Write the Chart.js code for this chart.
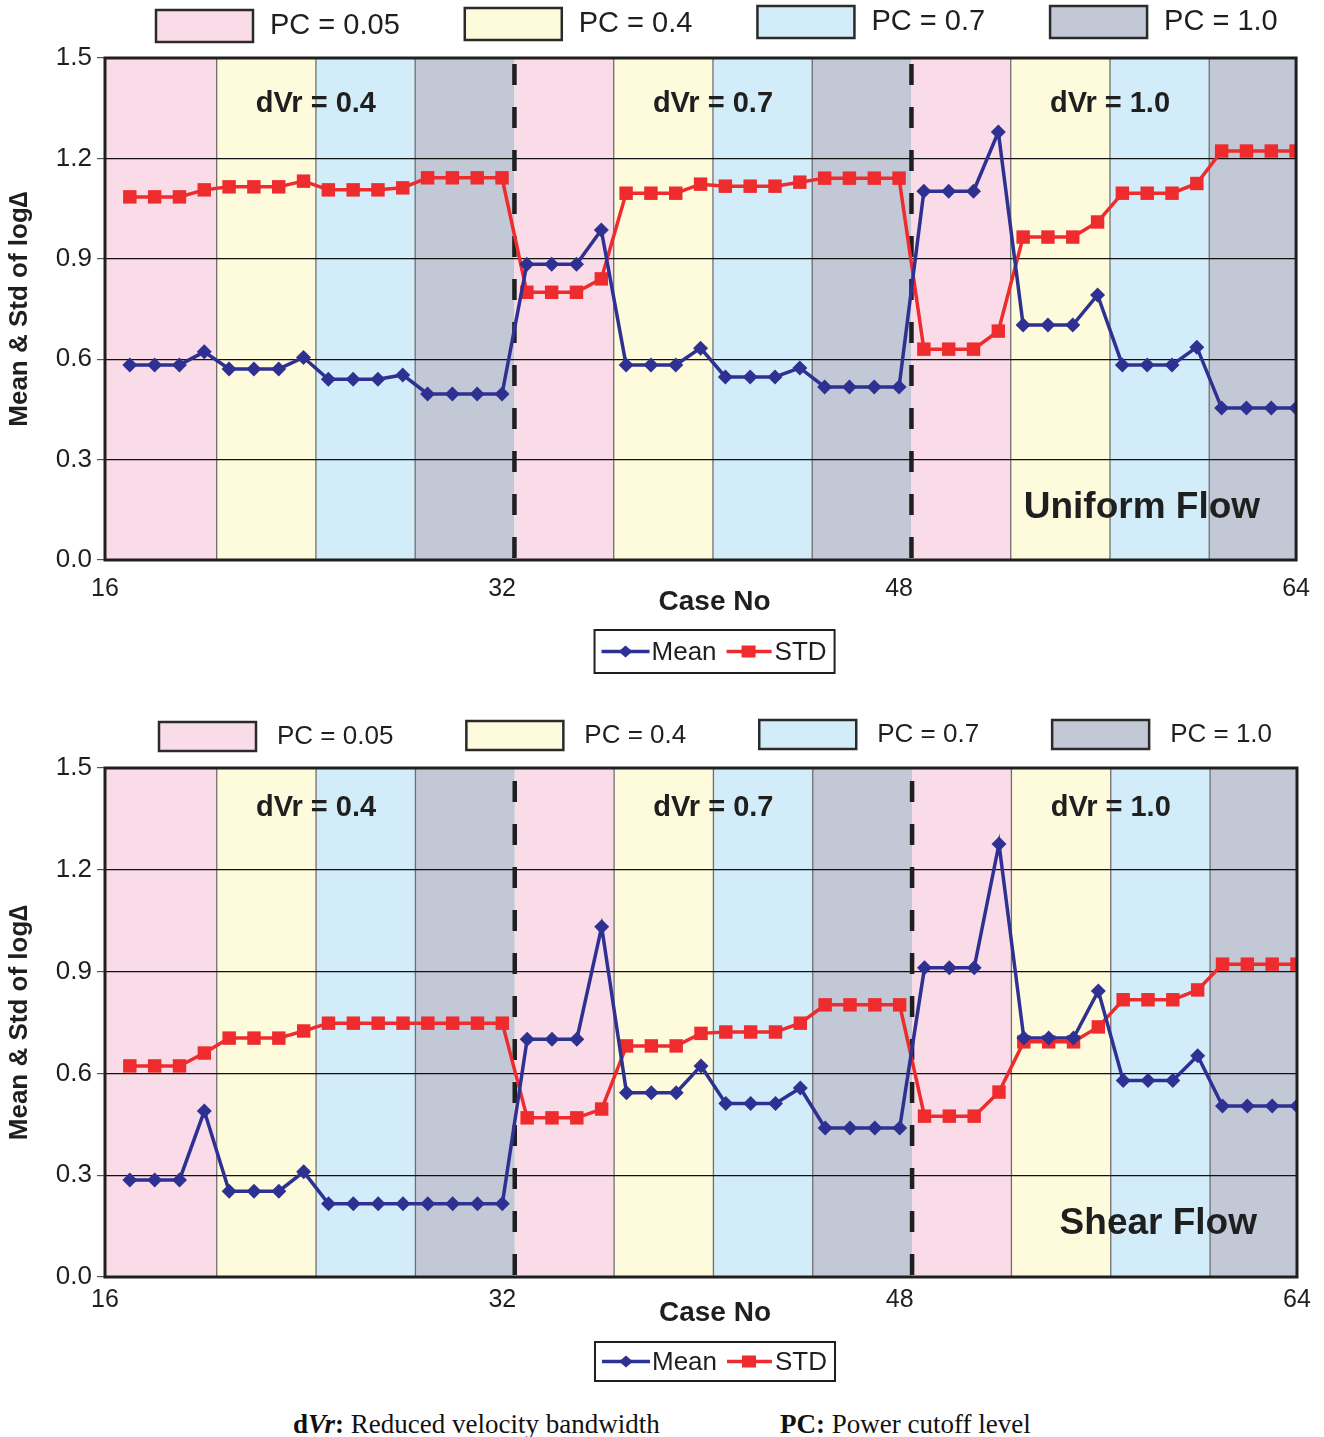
<!DOCTYPE html>
<html>
<head>
<meta charset="utf-8">
<title>Mean &amp; Std of log&#8710;</title>
<script src="https://cdn.jsdelivr.net/npm/chart.js@4.4.1/dist/chart.umd.min.js"></script>
<style>
  body { margin: 0; background: #fff; }
  #page { position: relative; width: 1324px; height: 1437px; overflow: hidden; }
  .panel { position: absolute; left: 0; width: 1324px; height: 700px; }
  #top { top: 0; }
  #bottom { top: 700px; }
  .note { position: absolute; top: 1409px; font: 27px "Liberation Serif", "Times New Roman", serif; color: #111; white-space: nowrap; }
</style>
</head>
<body>
<div id="page">
  <div class="panel" id="top"><canvas id="chartUniform" width="1324" height="700"></canvas></div>
  <div class="panel" id="bottom"><canvas id="chartShear" width="1324" height="700"></canvas></div>
  <div class="note" style="left:293px"><b>d<i>Vr</i>:</b> Reduced velocity bandwidth</div>
  <div class="note" style="left:780px"><b>PC:</b> Power cutoff level</div>
</div>
<script>
// case numbers 17..64, grouped by dVr (16 cases each) then PC (4 cases each)
const caseNo = [17, 18, 19, 20, 21, 22, 23, 24, 25, 26, 27, 28, 29, 30, 31, 32,
                33, 34, 35, 36, 37, 38, 39, 40, 41, 42, 43, 44, 45, 46, 47, 48,
                49, 50, 51, 52, 53, 54, 55, 56, 57, 58, 59, 60, 61, 62, 63, 64];
const dvrLevels = ["0.4", "0.7", "1.0"];
const pcLevels = ["0.05", "0.4", "0.7", "1.0"];
const xTicks = [16, 32, 48, 64];
const yTicks = [0, 0.3, 0.6, 0.9, 1.2, 1.5];

const uniformMean = [0.583, 0.583, 0.583, 0.622, 0.571, 0.571, 0.571, 0.605, 0.540, 0.540, 0.540, 0.553, 0.496, 0.496, 0.496, 0.496,
                     0.884, 0.884, 0.884, 0.986, 0.583, 0.583, 0.583, 0.633, 0.547, 0.547, 0.547, 0.574, 0.517, 0.517, 0.517, 0.517,
                     1.102, 1.102, 1.102, 1.279, 0.702, 0.702, 0.702, 0.792, 0.583, 0.583, 0.583, 0.636, 0.454, 0.454, 0.454, 0.454];
const uniformStd  = [1.085, 1.085, 1.085, 1.106, 1.115, 1.115, 1.115, 1.132, 1.106, 1.106, 1.106, 1.112, 1.142, 1.142, 1.142, 1.142,
                     0.800, 0.800, 0.800, 0.840, 1.096, 1.096, 1.096, 1.123, 1.117, 1.117, 1.117, 1.129, 1.141, 1.141, 1.141, 1.141,
                     0.630, 0.630, 0.630, 0.684, 0.965, 0.965, 0.965, 1.010, 1.096, 1.096, 1.096, 1.125, 1.222, 1.222, 1.222, 1.222];

const shearMean = [0.286, 0.286, 0.286, 0.489, 0.253, 0.253, 0.253, 0.310, 0.216, 0.216, 0.216, 0.216, 0.216, 0.216, 0.216, 0.216,
                   0.701, 0.701, 0.701, 1.032, 0.543, 0.543, 0.543, 0.622, 0.511, 0.511, 0.511, 0.557, 0.439, 0.439, 0.439, 0.439,
                   0.911, 0.911, 0.911, 1.276, 0.704, 0.704, 0.704, 0.843, 0.579, 0.579, 0.579, 0.652, 0.504, 0.504, 0.504, 0.504];
const shearStd  = [0.622, 0.622, 0.622, 0.660, 0.704, 0.704, 0.704, 0.725, 0.748, 0.748, 0.748, 0.748, 0.748, 0.748, 0.748, 0.748,
                   0.469, 0.469, 0.469, 0.495, 0.681, 0.681, 0.681, 0.718, 0.722, 0.722, 0.722, 0.748, 0.802, 0.802, 0.802, 0.802,
                   0.474, 0.474, 0.474, 0.545, 0.693, 0.693, 0.693, 0.737, 0.817, 0.817, 0.817, 0.846, 0.922, 0.922, 0.922, 0.922];

const pcColors = ["#F9DCE8", "#FEFADC", "#D2EDF9", "#C3C8D6"];
const meanColor = "#2E3192";
const stdColor = "#EE2B2D";
const ink = "#1f1f1f";
const sans = "'Liberation Sans', Arial, sans-serif";

function drawDiamond(ctx, x, y, r) {
  ctx.beginPath();
  ctx.moveTo(x - r * 1.15, y); ctx.lineTo(x, y - r); ctx.lineTo(x + r * 1.15, y); ctx.lineTo(x, y + r);
  ctx.closePath(); ctx.fill();
}

const flowPanel = {
  id: "flowPanel",
  beforeDraw(chart, args, o) {
    const { ctx, chartArea: a, scales: { x } } = chart;
    const nGroups = dvrLevels.length * pcLevels.length;
    ctx.save();
    dvrLevels.forEach((d, di) => {
      pcLevels.forEach((p, pi) => {
        const g = di * pcLevels.length + pi;
        const cases = caseNo.slice(g * 4, g * 4 + 4);
        const x0 = x.getPixelForValue(g === 0 ? x.min : cases[0] - 0.5);
        const x1 = x.getPixelForValue(g === nGroups - 1 ? x.max : cases[3] + 0.5);
        ctx.fillStyle = pcColors[pi];
        ctx.fillRect(x0, a.top, x1 - x0, a.bottom - a.top);
        if (pi > 0) {
          ctx.strokeStyle = "#6f6f6f"; ctx.lineWidth = 1.3;
          ctx.beginPath(); ctx.moveTo(x0, a.top); ctx.lineTo(x0, a.bottom); ctx.stroke();
        }
      });
    });
    ctx.restore();
  },
  beforeDatasetsDraw(chart) {
    const { ctx, chartArea: a, scales: { x } } = chart;
    ctx.save();
    ctx.strokeStyle = ink; ctx.lineWidth = 4.5; ctx.setLineDash([21, 22]);
    dvrLevels.forEach((d, di) => {
      if (di === 0) return;
      const px = x.getPixelForValue(caseNo[di * 16] - 0.5);
      ctx.beginPath(); ctx.moveTo(px, a.bottom - 2); ctx.lineTo(px, a.top); ctx.stroke();
    });
    ctx.restore();
  },
  afterDatasetsDraw(chart, args, o) {
    const { ctx, chartArea: a, scales: { x } } = chart;
    ctx.save();
    ctx.strokeStyle = ink; ctx.lineWidth = 3;
    ctx.strokeRect(a.left, a.top, a.right - a.left, a.bottom - a.top);
    ctx.fillStyle = ink;
    ctx.font = "bold 29px " + sans;
    ctx.textAlign = "center"; ctx.textBaseline = "middle";
    dvrLevels.forEach((d, di) => {
      const mid = (caseNo[di * 16] + caseNo[di * 16 + 15]) / 2;
      ctx.fillText("dVr = " + d, x.getPixelForValue(mid), a.top + o.labelDy);
    });
    ctx.font = "bold 37px " + sans;
    ctx.textAlign = "right";
    ctx.fillText(o.flow, a.right - o.flowDx, a.bottom - o.flowDy);
    ctx.restore();
  },
  afterDraw(chart, args, o) {
    const { ctx, chartArea: a } = chart;
    ctx.save();
    // PC colour key above the plot
    ctx.font = o.pcFont + "px " + sans;
    ctx.textBaseline = "middle"; ctx.textAlign = "left";
    let px = o.pcX;
    pcLevels.forEach((p, pi) => {
      const by = a.top - o.pcDy - (o.pcTilt || 0) * Math.min(pi, 2);
      ctx.fillStyle = pcColors[pi];
      ctx.fillRect(px, by, o.pcBoxW, o.pcBoxH);
      ctx.strokeStyle = "#2a2a2a"; ctx.lineWidth = 2.5;
      ctx.strokeRect(px, by, o.pcBoxW, o.pcBoxH);
      const label = "PC = " + p;
      const tx = px + o.pcBoxW + o.pcGap;
      ctx.fillStyle = ink;
      ctx.fillText(label, tx, by + o.pcBoxH / 2);
      px = tx + ctx.measureText(label).width + o.pcPad;
    });
    // axis title
    const cx = (a.left + a.right) / 2 + 14;
    ctx.font = "bold 28px " + sans;
    ctx.textAlign = "center";
    ctx.fillText("Case No", cx, a.bottom + o.titleDy);
    // Mean / STD key
    ctx.font = "26px " + sans;
    ctx.textAlign = "left";
    const wMean = ctx.measureText("Mean").width, wStd = ctx.measureText("STD").width;
    const w = 7 + 48 + 2 + wMean + 10 + 45 + 3 + wStd + 8;
    const lx = cx - w / 2, ly = a.bottom + o.keyDy, lh = o.keyH, my = ly + lh / 2;
    ctx.strokeStyle = ink; ctx.lineWidth = 2;
    ctx.strokeRect(lx, ly, w, lh);
    let kx = lx + 7;
    ctx.strokeStyle = meanColor; ctx.fillStyle = meanColor; ctx.lineWidth = 3.5;
    ctx.beginPath(); ctx.moveTo(kx, my); ctx.lineTo(kx + 48, my); ctx.stroke();
    drawDiamond(ctx, kx + 24, my, 6);
    kx += 50;
    ctx.fillStyle = ink; ctx.fillText("Mean", kx, my + 1);
    kx += wMean + 10;
    ctx.strokeStyle = stdColor; ctx.fillStyle = stdColor;
    ctx.beginPath(); ctx.moveTo(kx, my); ctx.lineTo(kx + 45, my); ctx.stroke();
    ctx.fillRect(kx + 22 - 7, my - 6, 14, 12);
    kx += 48;
    ctx.fillStyle = ink; ctx.fillText("STD", kx, my + 1);
    ctx.restore();
  }
};

function makeChart(id, mean, std, panel, pad) {
  const pts = vals => caseNo.map((c, i) => ({ x: c, y: vals[i] }));
  return new Chart(document.getElementById(id), {
    type: "line",
    data: {
      datasets: [
        { label: "Mean", data: pts(mean), borderColor: meanColor, backgroundColor: meanColor, borderWidth: 3.5,
          pointStyle: "rectRot", pointRadius: 7.5, pointBorderWidth: 0, tension: 0 },
        { label: "STD", data: pts(std), borderColor: stdColor, backgroundColor: stdColor, borderWidth: 3.5,
          pointStyle: "rect", pointRadius: 9.5, pointBorderWidth: 0, tension: 0 }
      ]
    },
    options: {
      responsive: false,
      animation: false,
      layout: { padding: pad },
      plugins: { legend: { display: false }, tooltip: { enabled: false }, flowPanel: panel },
      scales: {
        x: {
          type: "linear", min: 16, max: 64,
          afterBuildTicks: s => { s.ticks = xTicks.map(v => ({ value: v })); },
          afterFit: s => { s.height = panel.axisH; },
          grid: { display: false, drawTicks: false },
          border: { display: false },
          ticks: { color: ink, font: { family: sans, size: 25 }, padding: panel.tickPad, maxRotation: 0 }
        },
        y: {
          min: 0, max: 1.5,
          afterBuildTicks: s => { s.ticks = yTicks.map(v => ({ value: v })); },
          afterFit: s => { s.width = 105; },
          grid: { color: "#111", lineWidth: 1.2, tickLength: 8, tickColor: "#555" },
          border: { display: false },
          ticks: { color: ink, font: { family: sans, size: 26 }, padding: 5, callback: v => v.toFixed(1) },
          title: { display: true, text: "Mean & Std of log\u2206", color: ink,
                   font: { family: sans, size: 26, weight: "bold" }, padding: { top: 4, bottom: 0 } }
        }
      }
    },
    plugins: [flowPanel]
  });
}

makeChart("chartUniform", uniformMean, uniformStd,
  { flow: "Uniform Flow", flowDx: 36, flowDy: 52, labelDy: 46, tickPad: 14, axisH: 45, titleDy: 42,
    keyDy: 70, keyH: 43, pcX: 156, pcDy: 48, pcTilt: 2, pcBoxW: 97, pcBoxH: 32, pcGap: 17, pcPad: 65, pcFont: 29 },
  { top: 58, right: 26, bottom: 95, left: 0 });

makeChart("chartShear", shearMean, shearStd,
  { flow: "Shear Flow", flowDx: 40, flowDy: 53, labelDy: 40, tickPad: 8, axisH: 40, titleDy: 36,
    keyDy: 65, keyH: 39, pcX: 159, pcDy: 46, pcTilt: 1, pcBoxW: 97, pcBoxH: 29, pcGap: 21, pcPad: 73, pcFont: 26 },
  { top: 68, right: 27, bottom: 83, left: 0 });
</script>
</body>
</html>
